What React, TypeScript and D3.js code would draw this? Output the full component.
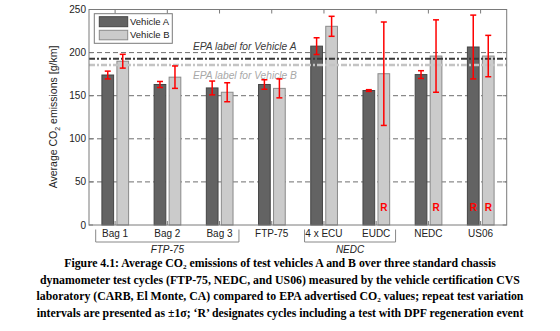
import React from "react";
import * as d3 from "d3";

const categories = ["Bag 1", "Bag 2", "Bag 3", "FTP-75", "4 x ECU", "EUDC", "NEDC", "US06"];
const vehicleA = [174, 163, 159, 163, 207.5, 156, 174.5, 206.5];
const vehicleAErr = [4.5, 3.5, 8, 5.5, 9.7, 1, 4.5, 37];
const vehicleB = [190, 171.5, 154, 158.5, 230.5, 175.5, 196, 196];
const vehicleBErr = [8, 13, 11, 11, 11.6, 60, 42, 24];
const regenA = [false, false, false, false, false, false, false, true];
const regenB = [false, false, false, false, false, true, true, true];
const epaValues = [193, 185.5];
const epaTexts = ["EPA label for Vehicle A", "EPA label for Vehicle B"];
const yTicks = [0, 50, 100, 150, 200, 250];
const gridValues = [50, 100, 150, 200];
const seriesNames = ["Vehicle A", "Vehicle B"];
const groupNames = ["FTP-75", "NEDC"];
const groupStart = [0, 4];
const groupEnd = [2, 5];
const captionLines = [
  "Figure 4.1: Average CO\u2082 emissions of test vehicles A and B over three standard chassis",
  "dynamometer test cycles (FTP-75, NEDC, and US06) measured by the vehicle certification CVS",
  "laboratory (CARB, El Monte, CA) compared to EPA advertised CO\u2082 values; repeat test variation",
  "intervals are presented as \u00b11\u03c3; \u2018R\u2019 designates cycles including a test with DPF regeneration event",
];

const L = 89, R = 506.7, T = 9.5, B = 225;

export default function App() {
  const x = d3.scaleBand<string>().domain(categories).range([L, R]).padding(0);
  const y = d3.scaleLinear().domain([0, 250]).range([B, T]);
  const bw = x.bandwidth();
  const barW = 11.7;
  const cx = (c: string) => (x(c) as number) + bw / 2;
  const aX = (c: string) => cx(c) - 13.2;
  const bX = (c: string) => cx(c) + 1.8;
  const sans = "'Liberation Sans', Arial, sans-serif";
  const dashDot = "6,2,2,2";

  const errBar = (xc: number, v: number, e: number, key: string) => (
    <g key={key} stroke="#ff0000" strokeWidth={1.5}>
      <line x1={xc} x2={xc} y1={y(v + e)} y2={y(v - e)} />
      <line x1={xc - 3} x2={xc + 3} y1={y(v + e)} y2={y(v + e)} />
      <line x1={xc - 3} x2={xc + 3} y1={y(v - e)} y2={y(v - e)} />
    </g>
  );

  return (
    <svg width={560} height={331} style={{ position: "absolute", left: 0, top: 0, display: "block" }}
      fontFamily={sans}>
      <rect x={0} y={0} width={560} height={331} fill="#fff" />
      {gridValues.map((g) => (
        <line key={g} x1={L} x2={R} y1={y(g)} y2={y(g)} stroke="#6e6e6e" strokeWidth={1} strokeDasharray="5,3" />
      ))}
      {categories.map((c, i) => (
        <g key={c}>
          <rect x={aX(c)} y={y(vehicleA[i])} width={barW} height={B - y(vehicleA[i])} fill="#636363" stroke="#454545" strokeWidth={1} />
          <rect x={bX(c)} y={y(vehicleB[i])} width={barW} height={B - y(vehicleB[i])} fill="#cbcbcb" stroke="#8a8a8a" strokeWidth={1} />
        </g>
      ))}
      <line x1={L} x2={R} y1={y(epaValues[0])} y2={y(epaValues[0])} stroke="#3a3a3a" strokeWidth={2} strokeDasharray={dashDot} />
      <line x1={L} x2={R} y1={y(epaValues[1])} y2={y(epaValues[1])} stroke="#c4c4c4" strokeWidth={2.5} strokeDasharray={dashDot} />
      <text x={193} y={y(epaValues[0]) - 8.5} fontSize={10.2} fontStyle="italic" fill="#3a3a3a">{epaTexts[0]}</text>
      <text x={193} y={y(epaValues[1]) + 14} fontSize={10.2} fontStyle="italic" fill="#a8a8a8">{epaTexts[1]}</text>
      {categories.map((c, i) => (
        <g key={"e" + c}>
          {errBar(aX(c) + barW / 2, vehicleA[i], vehicleAErr[i], "a")}
          {errBar(bX(c) + barW / 2, vehicleB[i], vehicleBErr[i], "b")}
        </g>
      ))}
      {categories.map((c, i) => (
        <g key={"r" + c} fill="#ff0000" fontWeight="bold" fontSize={10} textAnchor="middle">
          {regenA[i] && <text x={aX(c) + barW / 2} y={211}>R</text>}
          {regenB[i] && <text x={bX(c) + barW / 2} y={211}>R</text>}
        </g>
      ))}
      <rect x={L} y={T} width={R - L} height={B - T} fill="none" stroke="#7a7a7a" strokeWidth={1} />
      {categories.map((c) => (
        <g key={"t" + c} stroke="#7a7a7a">
          <line x1={cx(c)} x2={cx(c)} y1={T} y2={T + 4} />
          <line x1={cx(c)} x2={cx(c)} y1={B} y2={B - 4} />
        </g>
      ))}
      {yTicks.map((t) => (
        <g key={"y" + t}>
          <line x1={L} x2={L + 4} y1={y(t)} y2={y(t)} stroke="#7a7a7a" />
          <line x1={R} x2={R - 4} y1={y(t)} y2={y(t)} stroke="#7a7a7a" />
          <text x={86} y={y(t)} dy="0.35em" textAnchor="end" fontSize={10} fill="#222">{t}</text>
        </g>
      ))}
      {categories.map((c) => (
        <text key={"c" + c} x={cx(c)} y={233} dy="0.35em" textAnchor="middle" fontSize={10} fill="#222">{c}</text>
      ))}
      {groupNames.map((g, k) => {
        const x1 = (x(categories[groupStart[k]]) as number) + 6.7;
        const x2 = (x(categories[groupEnd[k]]) as number) + bw - 6.7;
        return (
          <g key={g}>
            <path d={`M${x1},229.5 V242 H${x2} V229.5`} fill="none" stroke="#888" strokeWidth={1} />
            <text x={(x1 + x2) / 2} y={249.5} dy="0.35em" textAnchor="middle" fontSize={10} fontStyle="italic" fill="#222">{g}</text>
          </g>
        );
      })}
      <text transform={`translate(57,117) rotate(-90)`} textAnchor="middle" fontSize={10.5} fill="#222">
        Average CO<tspan fontSize={7} dy={2.5}>2</tspan><tspan dy={-2.5}> emissions [g/km]</tspan>
      </text>
      <rect x={94.3} y={13.7} width={78} height={29.6} fill="#fff" stroke="#7a7a7a" strokeWidth={1} />
      <rect x={99.3} y={16.7} width={28.4} height={10} fill="#636363" stroke="#454545" />
      <rect x={99.3} y={30.3} width={28.4} height={9.5} fill="#cbcbcb" stroke="#8a8a8a" />
      <text x={130} y={21.7} dy="0.35em" fontSize={9.5} fill="#222">{seriesNames[0]}</text>
      <text x={130} y={35} dy="0.35em" fontSize={9.5} fill="#222">{seriesNames[1]}</text>
      {captionLines.map((ln, i) => (
        <text key={i} x={280} y={267 + i * 16.5} textAnchor="middle" fontFamily="'Liberation Serif', 'Times New Roman', serif"
          fontWeight="bold" fontSize={11.8} fill="#000">{ln}</text>
      ))}
    </svg>
  );
}
